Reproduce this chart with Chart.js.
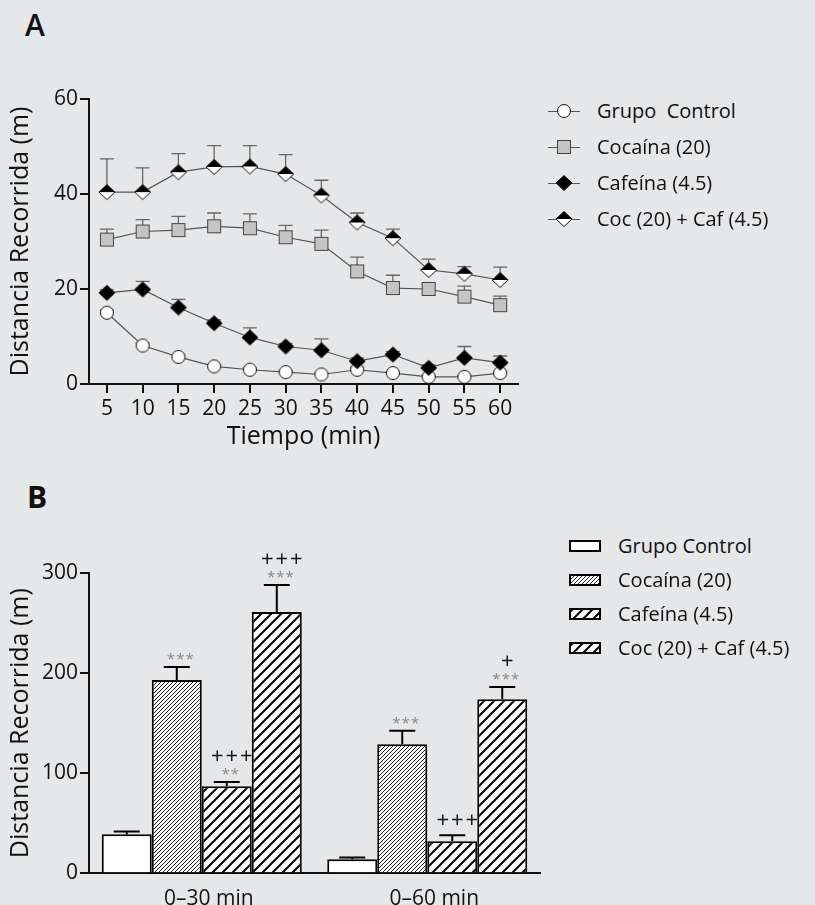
<!DOCTYPE html>
<html>
<head>
<meta charset="utf-8">
<script src="https://cdn.jsdelivr.net/npm/chart.js@4.4.1/dist/chart.umd.min.js"></script>
<style>
  html, body { margin: 0; padding: 0; background: #e6e7e9; }
  #page { position: relative; width: 815px; height: 905px; overflow: hidden; background: #e6e7e9;
          font-family: 'Open Sans', sans-serif; color: #111; }
  .tag { position: absolute; font-size: 30px; line-height: 30px; }
  canvas.chart { position: absolute; left: 0; }
  .row { position: absolute; display: flex; align-items: center; height: 20px;
         font-size: 20px; line-height: 20px; white-space: pre; }
</style>
</head>
<body>
<div id="page">
  <div class="tag" style="left:25px; top:10px; font-weight:600">A</div>
  <div class="tag" style="left:27px; top:482px; font-weight:700">B</div>
  <canvas id="chartA" class="chart" width="540" height="460" style="top:0"></canvas>
  <canvas id="chartB" class="chart" width="560" height="470" style="top:455px"></canvas>
  <div id="legendA"></div>
  <div id="legendB"></div>
</div>
<script>
// ---- Panel A: distancia cada 5 min (media y error estandar) ----
const tiempo = ['5', '10', '15', '20', '25', '30', '35', '40', '45', '50', '55', '60'];
const control = [15.0, 8.1, 5.7, 3.7, 3.0, 2.5, 2.0, 3.0, 2.3, 1.5, 1.5, 2.3];
const controlSem = [0.6, 0.5, 0.5, 0.4, 0.4, 0.3, 0.3, 0.5, 0.3, 0.3, 0.3, 0.3];
const cocaina = [30.4, 32.1, 32.4, 33.2, 32.8, 30.9, 29.5, 23.7, 20.2, 20.0, 18.4, 16.6];
const cocainaSem = [2.2, 2.5, 2.9, 2.8, 3.0, 2.5, 2.9, 3.0, 2.7, 1.0, 2.2, 1.9];
const cafeina = [19.2, 19.9, 16.1, 12.8, 9.8, 7.9, 7.1, 4.8, 6.2, 3.4, 5.5, 4.5];
const cafeinaSem = [0.6, 1.7, 1.7, 0.7, 2.0, 0.6, 2.4, 0.7, 0.6, 0.6, 2.4, 1.4];
const cocCaf = [40.4, 40.4, 44.6, 45.7, 45.8, 44.2, 39.7, 34.0, 30.7, 24.0, 23.2, 21.9];
const cocCafSem = [7.0, 5.1, 3.9, 4.5, 4.4, 4.1, 3.2, 2.0, 1.9, 2.3, 1.5, 2.7];
const nombresA = ['Grupo  Control', 'Cocaína (20)', 'Cafeína (4.5)', 'Coc (20) + Caf (4.5)'];

// ---- Panel B: distancia acumulada ----
const periodos = ['0–30 min', '0–60 min'];
const controlB = [39, 14];
const controlBSem = [2.7, 1.7];
const cocainaB = [193, 129];
const cocainaBSem = [13, 13.4];
const cafeinaB = [87, 32];
const cafeinaBSem = [4.3, 6];
const cocCafB = [261, 174];
const cocCafBSem = [27, 12];
const estrellasCoca = ['***', '***'];
const estrellasCaf = ['**', ''];
const estrellasCocCaf = ['***', '***'];
const crucesCaf = ['+++', '+++'];
const crucesCocCaf = ['+++', '+'];
const nombresB = ['Grupo Control', 'Cocaína (20)', 'Cafeína (4.5)', 'Coc (20) + Caf (4.5)'];

Chart.defaults.font.family = "'Open Sans', sans-serif";
Chart.defaults.color = '#111';

// marker images
function marker(kind) {
    const c = document.createElement('canvas');
    c.width = 18; c.height = 18;
    const g = c.getContext('2d');
    g.lineWidth = 1;
    g.strokeStyle = '#111';
    if (kind === 'circle') {
        g.beginPath();
        g.arc(9, 9, 6.5, 0, Math.PI * 2);
        g.fillStyle = '#fff';
        g.fill();
        g.stroke();
    } else if (kind === 'square') {
        g.fillStyle = '#c4c4c4';
        g.strokeStyle = '#444';
        g.fillRect(2.5, 2.5, 13, 13);
        g.strokeRect(2.5, 2.5, 13, 13);
    } else {
        const p = new Path2D('M9 1.5 L17 9 L9 16.5 L1 9 Z');
        g.fillStyle = kind === 'diamond' ? '#000' : '#fff';
        g.fill(p);
        if (kind === 'half') {
            g.fillStyle = '#000';
            g.fill(new Path2D('M9 1.5 L17 9 L1 9 Z'));
        }
        g.stroke(p);
    }
    return c;
}

function hatch(step, lw, color) {
    const c = document.createElement('canvas');
    c.width = step; c.height = step;
    const g = c.getContext('2d');
    g.fillStyle = '#fff';
    g.fillRect(0, 0, step, step);
    g.strokeStyle = color;
    g.lineWidth = lw;
    g.beginPath();
    g.moveTo(-1, step + 1); g.lineTo(step + 1, -1);
    g.moveTo(-1, 1); g.lineTo(1, -1);
    g.moveTo(step - 1, step + 1); g.lineTo(step + 1, step - 1);
    g.stroke();
    return c;
}

const markers = [marker('circle'), marker('square'), marker('diamond'), marker('half')];
const tiles = [null, hatch(4, 1, '#222'), hatch(10, 2, '#000'), hatch(10, 2, '#000')];

const axisGrid = { drawOnChartArea: false, drawTicks: true, tickLength: 9, color: '#111', lineWidth: 2 };
const axisBorder = { color: '#111', width: 2 };

// error bars for panel A (upper half only, behind markers)
const errorBarsA = {
    id: 'errorBarsA',
    beforeDatasetsDraw(chart) {
        const { ctx } = chart;
        const y = chart.scales.y;
        ctx.save();
        ctx.strokeStyle = '#666';
        ctx.lineWidth = 1.3;
        chart.data.datasets.forEach((ds, i) => {
            chart.getDatasetMeta(i).data.forEach((pt, j) => {
                const top = y.getPixelForValue(ds.data[j] + ds.sem[j]);
                ctx.beginPath();
                ctx.moveTo(pt.x, pt.y);
                ctx.lineTo(pt.x, top);
                ctx.moveTo(pt.x - 7, top);
                ctx.lineTo(pt.x + 7, top);
                ctx.stroke();
            });
        });
        ctx.restore();
    }
};

// error bars + significance marks for panel B
const errorBarsB = {
    id: 'errorBarsB',
    afterDatasetsDraw(chart) {
        const { ctx } = chart;
        const y = chart.scales.y;
        ctx.save();
        chart.data.datasets.forEach((ds, i) => {
            chart.getDatasetMeta(i).data.forEach((bar, j) => {
                const top = y.getPixelForValue(ds.data[j] + ds.sem[j]);
                ctx.strokeStyle = '#000';
                ctx.lineWidth = 2;
                ctx.beginPath();
                ctx.moveTo(bar.x, bar.y);
                ctx.lineTo(bar.x, top);
                ctx.moveTo(bar.x - 13, top);
                ctx.lineTo(bar.x + 13, top);
                ctx.stroke();
                const st = ds.stars ? ds.stars[j] : '';
                const pl = ds.plus ? ds.plus[j] : '';
                ctx.textAlign = 'center';
                ctx.textBaseline = 'alphabetic';
                if (st) {
                    ctx.font = "15px 'Open Sans'";
                    ctx.letterSpacing = '1px';
                    ctx.fillStyle = '#888';
                    ctx.fillText(st, bar.x + 4, top - 11 + 0.55 * 15);
                }
                if (pl) {
                    ctx.font = "22px 'Open Sans'";
                    ctx.letterSpacing = '2px';
                    ctx.fillStyle = '#111';
                    ctx.fillText(pl, bar.x + 6, top - (st ? 27 : 16) + 0.35 * 22);
                }
            });
        });
        ctx.restore();
    }
};

const chartA = new Chart(document.getElementById('chartA'), {
    type: 'line',
    data: {
        labels: tiempo,
        datasets: [
            { label: nombresA[0], data: control, sem: controlSem, order: 4 },
            { label: nombresA[1], data: cocaina, sem: cocainaSem, order: 3 },
            { label: nombresA[2], data: cafeina, sem: cafeinaSem, order: 2 },
            { label: nombresA[3], data: cocCaf, sem: cocCafSem, order: 1 }
        ].map((d, i) => Object.assign(d, {
            borderColor: '#555', borderWidth: 1.2, fill: false, tension: 0,
            pointStyle: markers[i], pointRadius: 8
        }))
    },
    options: {
        responsive: false,
        animation: false,
        events: [],
        layout: { padding: { top: 99, left: 6, right: 22, bottom: 10.8 } },
        plugins: { legend: { display: false }, tooltip: { enabled: false } },
        scales: {
            x: {
                type: 'category', offset: true,
                grid: Object.assign({ offset: false }, axisGrid),
                border: axisBorder,
                ticks: { font: { size: 21 }, padding: 3, maxRotation: 0, autoSkip: false },
                title: { display: true, text: 'Tiempo (min)', font: { size: 25, lineHeight: 1.0 }, padding: 0 }
            },
            y: {
                min: 0, max: 60,
                grid: axisGrid,
                border: axisBorder,
                ticks: { stepSize: 20, font: { size: 21 }, padding: 2 },
                title: { display: true, text: 'Distancia Recorrida (m)', font: { size: 25, lineHeight: 1.2 },
                         padding: { top: 0, bottom: 16 } }
            }
        }
    },
    plugins: [errorBarsA]
});

const ctxB = document.getElementById('chartB').getContext('2d');
const fillsB = tiles.map(t => t ? ctxB.createPattern(t, 'repeat') : '#fff');

const chartB = new Chart(ctxB, {
    type: 'bar',
    data: {
        labels: periodos,
        datasets: [
            { label: nombresB[0], data: controlB, sem: controlBSem },
            { label: nombresB[1], data: cocainaB, sem: cocainaBSem, stars: estrellasCoca },
            { label: nombresB[2], data: cafeinaB, sem: cafeinaBSem, stars: estrellasCaf, plus: crucesCaf },
            { label: nombresB[3], data: cocCafB, sem: cocCafBSem, stars: estrellasCocCaf, plus: crucesCocCaf }
        ].map((d, i) => Object.assign(d, {
            backgroundColor: fillsB[i], borderColor: '#000', borderWidth: 2,
            categoryPercentage: 0.887, barPercentage: 1.0
        }))
    },
    options: {
        responsive: false,
        animation: false,
        events: [],
        layout: { padding: { top: 118, left: 6, right: 20, bottom: 0.5 } },
        plugins: { legend: { display: false }, tooltip: { enabled: false } },
        scales: {
            x: {
                grid: { display: false, drawTicks: false },
                border: axisBorder,
                ticks: { font: { size: 21 }, padding: 13, labelOffset: 7 }
            },
            y: {
                min: 0, max: 300,
                grid: axisGrid,
                border: axisBorder,
                ticks: { stepSize: 100, font: { size: 21 }, padding: 2 },
                title: { display: true, text: 'Distancia Recorrida (m)', font: { size: 25, lineHeight: 1.2 },
                         padding: { top: 0, bottom: 4 } }
            }
        }
    },
    plugins: [errorBarsB]
});

// ---- HTML legends ----
function legendRow(parent, left, top, icon, gap, text) {
    const row = document.createElement('div');
    row.className = 'row';
    row.style.left = left + 'px';
    row.style.top = top + 'px';
    icon.style.marginRight = gap + 'px';
    row.appendChild(icon);
    const span = document.createElement('span');
    span.textContent = text;
    row.appendChild(span);
    parent.appendChild(row);
}

const legA = document.getElementById('legendA');
chartA.data.datasets.forEach((ds, i) => {
    const c = document.createElement('canvas');
    c.width = 32; c.height = 20;
    const g = c.getContext('2d');
    g.strokeStyle = '#555';
    g.lineWidth = 1;
    g.beginPath(); g.moveTo(0, 10.5); g.lineTo(32, 10.5); g.stroke();
    g.drawImage(markers[i], 7, 1);
    legendRow(legA, 548, 101 + i * 36, c, 17, ds.label);
});

const legB = document.getElementById('legendB');
chartB.data.datasets.forEach((ds, i) => {
    const c = document.createElement('canvas');
    c.width = 34; c.height = 20;
    const g = c.getContext('2d');
    g.fillStyle = tiles[i] ? g.createPattern(tiles[i], 'repeat') : '#fff';
    g.fillRect(1, 4, 32, 12);
    g.strokeStyle = '#000';
    g.lineWidth = 2;
    g.strokeRect(2, 5, 30, 10);
    legendRow(legB, 568, 536 + i * 34, c, 16, ds.label);
});
</script>
</body>
</html>
